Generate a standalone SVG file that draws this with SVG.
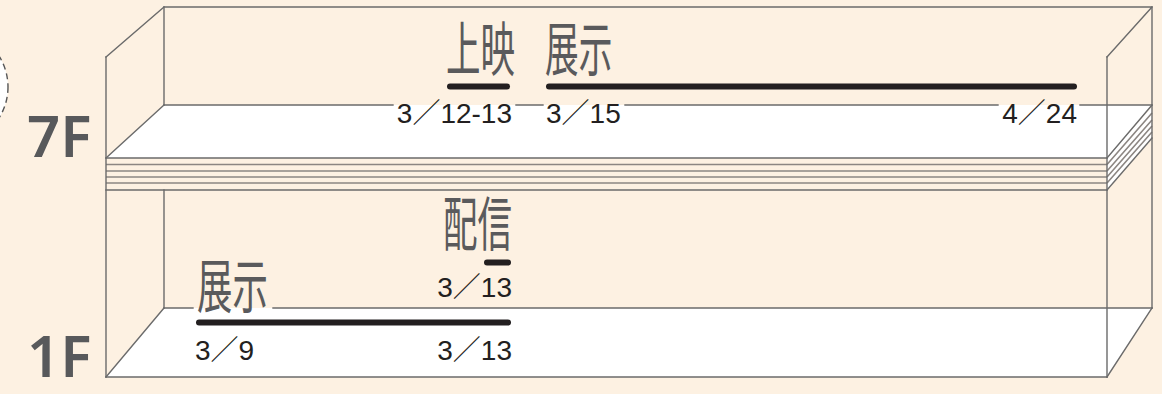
<svg xmlns="http://www.w3.org/2000/svg" width="1162" height="394" viewBox="0 0 1162 394">
<style>
.frame{fill:none;stroke:#6b6b6b;stroke-width:1.4;stroke-linecap:square}
.layer{fill:none;stroke:#8c8682;stroke-width:1.6}
.floor{fill:#ffffff;stroke:none}
.bar{fill:none;stroke:#231f20;stroke-width:6;stroke-linecap:round}
.fl{font-family:"Noto Sans","Liberation Sans",sans-serif;font-weight:600;font-size:58px;fill:#58595b}
.cjk{font-family:"Noto Sans CJK JP","Noto Sans CJK SC",sans-serif;font-size:59px;fill:#5a5a5c}
.date{font-family:"Liberation Sans","Noto Sans CJK JP",sans-serif;font-size:28px;fill:#231f20}
</style>
<rect width="1162" height="394" fill="#fdf1e2"/>
<circle cx="-50" cy="87" r="58" fill="#ffffff" stroke="#555" stroke-width="1.4" stroke-dasharray="6 4"/>

<g id="floor-7F">
  <polygon class="floor" points="164,105 1152,105 1107,158 106,158"/>
  <polygon class="floor" points="1107,158 1152,107 1152,138 1107,190"/>
  <path class="frame" d="M106,158 L164,105 M1107,158 L1152,105"/>
  <path class="frame" d="M164,105 H393 M516,105 H543 M625,105 H998 M1080,105 H1152"/>
  <path class="frame" d="M106,158 H1107 M106,190 H1107"/>
  <path class="layer" d="M106,164.5 H1107 M106,171 H1107 M106,177 H1107 M106,183 H1107"/>
  <path class="layer" d="M1107,164.5 L1152,113 M1107,171 L1152,120 M1107,177 L1152,126 M1107,183 L1152,132"/>
  <path class="frame" d="M1107,190 L1152,138"/>
  <text class="fl" x="27" y="157">7F</text>
</g>

<g id="floor-1F">
  <polygon class="floor" points="164,308 1152,308 1107,377 106,377"/>
  <path class="frame" d="M106,377 L164,308 M1107,377 L1152,308"/>
  <path class="frame" d="M164,308 H193 M273,308 H1152 M106,377 H1107"/>
  <text class="fl" x="27" y="377">1F</text>
</g>

<g id="box-frame">
  <path class="frame" d="M164,7 H1152 M106,57 L164,7 M1107,57 L1152,7"/>
  <path class="frame" d="M106,57 V377 M1107,57 V377 M1152,7 V308"/>
  <path class="frame" d="M164,7 V105 M164,190 V308"/>
</g>

<g id="label-7F-screening">
  <text class="cjk" transform="translate(446,71) scale(0.585,1)">上映</text>
  <line class="bar" x1="450" y1="86.5" x2="507" y2="86.5"/>
  <text class="date" x="512" y="123" text-anchor="end">3／12-13</text>
</g>

<g id="label-7F-exhibit">
  <text class="cjk" transform="translate(545,71) scale(0.57,1)">展示</text>
  <line class="bar" x1="549" y1="86.5" x2="1074" y2="86.5"/>
  <text class="date" x="546" y="123">3／15</text>
  <text class="date" x="1077" y="123" text-anchor="end">4／24</text>
</g>

<g id="label-1F-stream">
  <text class="cjk" transform="translate(443,246) scale(0.585,1)">配信</text>
  <line class="bar" x1="487" y1="262.5" x2="508" y2="262.5"/>
  <text class="date" x="512" y="297" text-anchor="end">3／13</text>
</g>

<g id="label-1F-exhibit">
  <text class="cjk" transform="translate(197,308) scale(0.6,1)">展示</text>
  <line class="bar" x1="199" y1="322.5" x2="508" y2="322.5"/>
  <text class="date" x="195" y="360">3／9</text>
  <text class="date" x="512" y="360" text-anchor="end">3／13</text>
</g>
</svg>
